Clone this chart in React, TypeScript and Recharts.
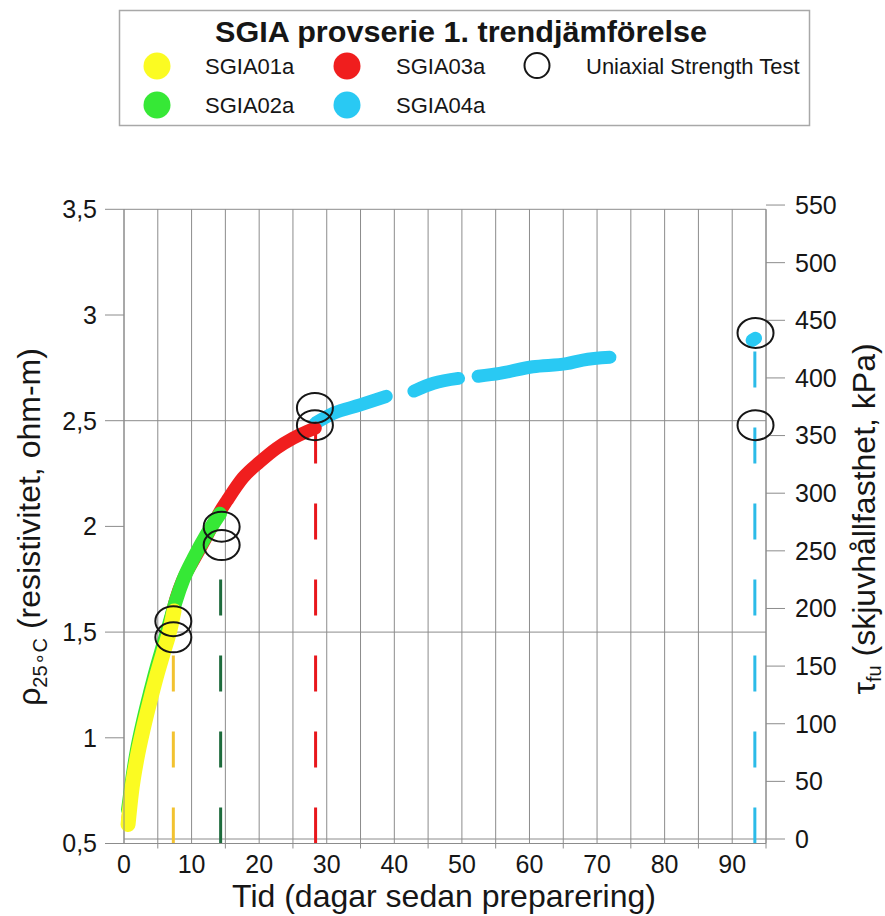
import React from 'react';
import {
  ComposedChart, Line, Scatter, XAxis, YAxis, CartesianGrid, ReferenceLine,
} from 'recharts';

const FONT = '"Liberation Sans", Arial, Helvetica, sans-serif';
const GRID = '#8c8c8c';
const INK = '#161616';

// axes
const X_TICKS = [0, 5, 10, 15, 20, 25, 30, 35, 40, 45, 50, 55, 60, 65, 70, 75, 80, 85, 90, 95];
const LEFT_TICKS = [0.5, 1, 1.5, 2, 2.5, 3, 3.5];
const GRID_ROWS = [0.5, 1.5, 2.5, 3.5];
const RIGHT_TICKS = [0, 50, 100, 150, 200, 250, 300, 350, 400, 450, 500, 550];
const RIGHT_DOMAIN = [-3.9, 546.3];

// resistivity curves (day, ohm-m)
const sgia01Days = [0.6, 1.1, 1.9, 2.9, 3.9, 4.8, 5.8, 6.8, 7.4];
const sgia01Vals = [0.59, 0.74, 0.9, 1.05, 1.18, 1.29, 1.4, 1.51, 1.6];

const sgia02Days = [0.6, 1.1, 1.9, 2.9, 3.9, 4.8, 5.8, 6.8, 7.7, 8.8, 10.3, 12.2, 14.2];
const sgia02Vals = [0.66, 0.78, 0.94, 1.09, 1.22, 1.33, 1.44, 1.55, 1.65, 1.75, 1.85, 1.96, 2.06];

const sgia03Days = [0.6, 1.1, 1.9, 2.9, 3.9, 4.8, 5.8, 6.8, 7.7, 8.6, 10.3, 12.2, 14.2, 15.2, 17.6, 20.1, 22.6, 25.0, 27.0, 28.3];
const sgia03Vals = [0.62, 0.77, 0.93, 1.08, 1.21, 1.32, 1.43, 1.55, 1.66, 1.74, 1.84, 1.95, 2.07, 2.12, 2.23, 2.305, 2.37, 2.417, 2.448, 2.465];

const sgia04Days = [28.3, 31.0, 34.9, 38.8, 40.8, 42.9, 45.8, 49.5, 51.0, 52.4, 55.6, 60.5, 65.5, 67.9, 71.9, 82.0, 92.95, 93.45];
const sgia04Vals = [2.488, 2.535, 2.574, 2.615, null, 2.64, 2.677, 2.70, null, 2.71, 2.724, 2.755, 2.77, 2.787, 2.80, null, 2.88, 2.89];

// uniaxial strength tests (day, kPa)
const testDays = [7.3, 7.3, 14.45, 14.45, 28.25, 28.25, 93.45, 93.45];
const testKpa = [189, 175, 271, 255, 374, 359, 439, 359];

// dashed markers from the axis up to the test level
const markerDays = [7.3, 14.3, 28.35, 93.35];
const markerTops = [175, 255, 359, 433];
const markerColors = ['#f2c230', '#1d6b3c', '#e8161c', '#2bbbe8'];

const series = [
  { name: 'SGIA04a', color: '#29c9f3', days: sgia04Days, vals: sgia04Vals, w: 13 },
  { name: 'SGIA03a', color: '#f01e1e', days: sgia03Days, vals: sgia03Vals, w: 13 },
  { name: 'SGIA02a', color: '#36e836', days: sgia02Days, vals: sgia02Vals, w: 14 },
  { name: 'SGIA01a', color: '#fbfb22', days: sgia01Days, vals: sgia01Vals, w: 15 },
];

const zip = (days: number[], vals: (number | null)[]) => days.map((x, i) => ({ x, v: vals[i] }));
const tests = testDays.map((x, i) => ({ x, t: testKpa[i] }));

const fmt = (v: number) => String(v).replace('.', ',');

const XTick = ({ x, y, payload }: any) => {
  const v = payload.value;
  return (
    <g>
      {v % 10 === 5 && <line x1={x} x2={x} y1={y} y2={y + 5} stroke={GRID} />}
      {v % 10 === 0 && v <= 90 && (
        <text x={x} y={y + 29} textAnchor="middle" fontSize={25} fontFamily={FONT} fill={INK}>{v}</text>
      )}
    </g>
  );
};

const TestCircle = ({ cx, cy }: any) => (
  <ellipse cx={cx} cy={cy} rx={18} ry={15} fill="none" stroke={INK} strokeWidth={2} />
);

const legendItems = [
  { label: 'SGIA01a', color: '#fbfb22', col: 0, row: 0 },
  { label: 'SGIA02a', color: '#36e836', col: 0, row: 1 },
  { label: 'SGIA03a', color: '#f01e1e', col: 1, row: 0 },
  { label: 'SGIA04a', color: '#29c9f3', col: 1, row: 1 },
];

const Overlay = () => (
  <svg width={885} height={916} style={{ position: 'absolute', left: 0, top: 0, pointerEvents: 'none' }}>
    <rect x={119.5} y={10.5} width={690} height={115} fill="#fff" stroke="#a8a8a8" strokeWidth={1.5} />
    <text x={461} y={42} textAnchor="middle" fontSize={30} fontWeight="bold" fontFamily={FONT} fill={INK}
      textLength={492} lengthAdjust="spacingAndGlyphs">
      SGIA provserie 1. trendjämförelse
    </text>
    {legendItems.map((it) => (
      <g key={it.label}>
        <circle cx={157 + it.col * 190} cy={66 + it.row * 39} r={13.5} fill={it.color} />
        <text x={205 + it.col * 191} y={73.5 + it.row * 39} fontSize={22} fontFamily={FONT} fill={INK}>{it.label}</text>
      </g>
    ))}
    <circle cx={537} cy={65.5} r={12.5} fill="none" stroke={INK} strokeWidth={2} />
    <text x={586} y={73.5} fontSize={22} fontFamily={FONT} fill={INK}>Uniaxial Strength Test</text>

    <text transform="translate(40,527) rotate(-90)" textAnchor="middle" fontSize={32} fontFamily={FONT} fill={INK}>
      ρ<tspan fontSize={20} dy={7}>25∘C</tspan><tspan dy={-7}> (resistivitet, ohm-m)</tspan>
    </text>
    <text transform="translate(875,519) rotate(-90)" textAnchor="middle" fontSize={32} fontFamily={FONT} fill={INK}>
      τ<tspan fontSize={20} dy={6}>fu</tspan><tspan dy={-6}> (skjuvhållfasthet, kPa)</tspan>
    </text>
    <text x={444} y={907} textAnchor="middle" fontSize={32} fontFamily={FONT} fill={INK}>
      Tid (dagar sedan preparering)
    </text>
  </svg>
);

export default function App() {
  return (
    <div style={{ position: 'absolute', left: 0, top: 0, width: 885, height: 916, background: '#fff' }}>
      <ComposedChart
        width={885}
        height={916}
        margin={{ top: 209.3, right: 39, bottom: 32.5, left: 64 }}
      >
        <CartesianGrid yAxisId="left" stroke={GRID} horizontalValues={GRID_ROWS} />
        <XAxis
          dataKey="x"
          type="number"
          domain={[0, 95]}
          ticks={X_TICKS}
          interval={0}
          height={40}
          tickSize={0}
          tickMargin={0}
          tickLine={false}
          tick={<XTick />}
          axisLine={{ stroke: GRID }}
        />
        <YAxis
          yAxisId="left"
          dataKey="v"
          type="number"
          domain={[0.5, 3.5]}
          ticks={LEFT_TICKS}
          interval={0}
          width={60}
          tickSize={19}
          tickMargin={8}
          tickFormatter={fmt}
          tick={{ fontSize: 25, fill: INK, fontFamily: FONT }}
          tickLine={{ stroke: GRID }}
          axisLine={{ stroke: GRID }}
        />
        <YAxis
          yAxisId="right"
          orientation="right"
          dataKey="t"
          type="number"
          domain={RIGHT_DOMAIN}
          ticks={RIGHT_TICKS}
          interval={0}
          width={80}
          tickSize={19}
          tickMargin={10}
          tick={{ fontSize: 25, fill: INK, fontFamily: FONT }}
          tickLine={{ stroke: GRID }}
          axisLine={{ stroke: GRID }}
        />
        <ReferenceLine yAxisId="right" y={0} stroke={GRID} />
        {markerDays.map((d, i) => (
          <ReferenceLine
            key={d}
            yAxisId="right"
            segment={[{ x: d, y: RIGHT_DOMAIN[0] }, { x: d, y: markerTops[i] }]}
            stroke={markerColors[i]}
            strokeWidth={3}
            strokeDasharray="36 40"
          />
        ))}
        {series.map((s) => (
          <Line
            key={s.name}
            name={s.name}
            yAxisId="left"
            data={zip(s.days, s.vals)}
            dataKey="v"
            type="monotone"
            stroke={s.color}
            strokeWidth={s.w}
            strokeLinecap="round"
            strokeLinejoin="round"
            dot={false}
            activeDot={false}
            isAnimationActive={false}
          />
        ))}
        <Scatter
          name="Uniaxial Strength Test"
          yAxisId="right"
          data={tests}
          dataKey="t"
          shape={<TestCircle />}
          isAnimationActive={false}
        />
      </ComposedChart>
      <Overlay />
    </div>
  );
}
